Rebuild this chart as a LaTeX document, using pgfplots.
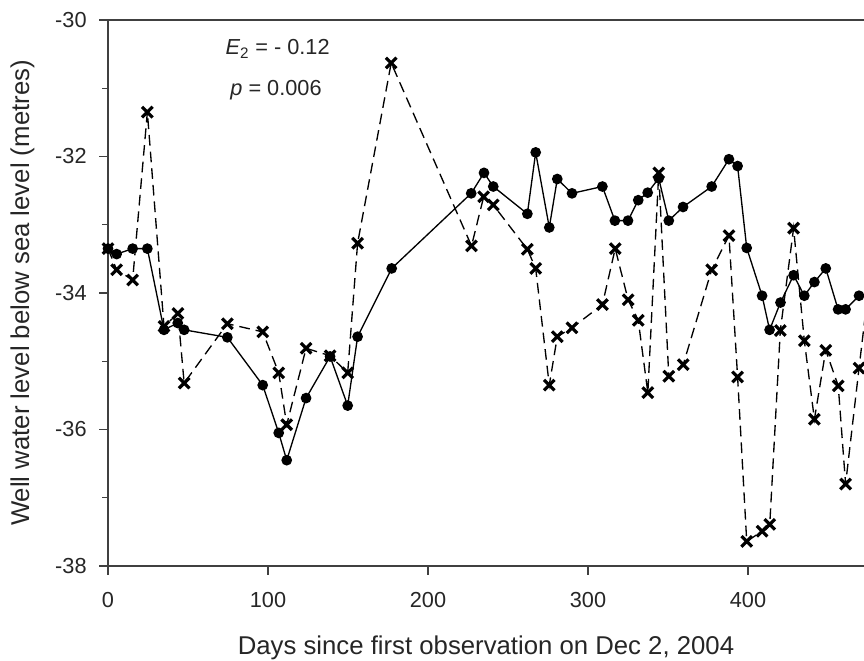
\documentclass[border=0pt]{standalone}
\usepackage{pgfplots}
\pgfplotsset{compat=1.18}
\usepackage{fontspec}
\setmainfont{Liberation Sans}

\pgfplotstableread{
x y
0 -33.35
5.4 -33.43
15.4 -33.35
24.6 -33.35
35 -34.54
43.6 -34.44
47.6 -34.54
74.6 -34.65
96.7 -35.35
106.7 -36.05
111.7 -36.45
123.8 -35.54
138.8 -34.93
149.8 -35.65
156 -34.64
177.3 -33.64
227 -32.54
235 -32.24
240.8 -32.44
262.1 -32.84
267.3 -31.94
275.8 -33.04
280.8 -32.33
290 -32.54
309 -32.44
316.8 -32.94
325 -32.94
331.4 -32.64
337.3 -32.53
344.2 -32.32
350.5 -32.94
359.4 -32.74
377.3 -32.44
388.1 -32.04
393.5 -32.14
399.2 -33.34
408.8 -34.04
413.5 -34.54
420.3 -34.14
428.5 -33.74
435.2 -34.04
441.5 -33.84
448.6 -33.64
456.3 -34.24
461 -34.24
469.4 -34.04
}\wellA

\pgfplotstableread{
x y
0 -33.35
5.4 -33.66
15.4 -33.81
24.6 -31.35
35 -34.49
43.7 -34.30
47.6 -35.32
74.6 -34.45
96.7 -34.57
106.7 -35.17
111.7 -35.93
123.8 -34.81
138.8 -34.92
149.8 -35.17
156 -33.27
177 -30.63
227.2 -33.31
234.8 -32.59
240.8 -32.71
262.1 -33.36
267.3 -33.64
275.8 -35.35
280.8 -34.64
290 -34.51
309 -34.17
317 -33.35
325.1 -34.10
331.4 -34.40
337.4 -35.46
344.2 -32.24
350.5 -35.22
359.5 -35.05
377.3 -33.66
388.1 -33.16
393.5 -35.23
399.2 -37.64
408.8 -37.49
413.6 -37.39
420.2 -34.55
428.5 -33.05
435.2 -34.70
441.5 -35.85
448.6 -34.84
456.4 -35.36
461 -36.80
469.4 -35.10
480 -33.0
}\wellB

\begin{document}
\begin{tikzpicture}
\begin{axis}[
    scale only axis,
    width=567pt, height=409.5pt,
    xmin=0, xmax=472.5,
    ymin=-38, ymax=-30,
    axis x line*=box,
    axis y line*=left,
    axis line style={-, black!75, line width=0.9pt},
    tick style={black!75, line width=0.9pt},
    tick align=outside,
    xtick pos=bottom,
    ytick pos=left,
    major tick length=6.5pt,
    minor tick length=4.2pt,
    xtick={0,100,200,300,400},
    xticklabels={0,100,200,300,400},
    ytick={-38,-36,-34,-32,-30},
    yticklabels={-38,-36,-34,-32,-30},
    minor ytick={-37,-35,-33,-31},
    ticklabel style={font=\fontsize{16.3}{19}\selectfont, text=black!85},
    xticklabel style={yshift=-10pt},
    yticklabel style={xshift=-6pt},
    every axis x label/.style={at={(axis description cs:0.5,0)}, anchor=base, yshift=-66.75pt},
    every axis y label/.style={at={(axis description cs:-0.1131,0.5)}, rotate=90, anchor=center},
    label style={font=\fontsize{19.3}{23}\selectfont, text=black!85},
    xlabel={Days since first observation on Dec 2, 2004},
    ylabel={Well water level below sea level (metres)},
    clip mode=individual,
]
\addplot[black, line width=1pt, mark=*, mark size=3.5pt, mark options={solid}]
    table[x=x, y=y] {\wellA};
\addplot[black, line width=1pt, dash pattern=on 8pt off 4.5pt, mark=x, mark size=5.6pt,
    mark options={solid, line width=2.4pt}]
    table[x=x, y=y] {\wellB};
\node[anchor=base, font=\fontsize{16.3}{19}\selectfont, text=black!85] at (axis cs:106,-30.51)
    {\textit{E}\textsubscript{2} = - 0.12};
\node[anchor=base, font=\fontsize{16.3}{19}\selectfont, text=black!85] at (axis cs:105,-31.11)
    {\textit{p} = 0.006};
\coordinate (ll) at (rel axis cs:0,0);
\coordinate (ur) at (rel axis cs:1,1);
\end{axis}
\pgfresetboundingbox
\path[use as bounding box] ([xshift=-81pt, yshift=-71.25pt]ll) rectangle ([yshift=15pt]ur);
\end{tikzpicture}
\end{document}
